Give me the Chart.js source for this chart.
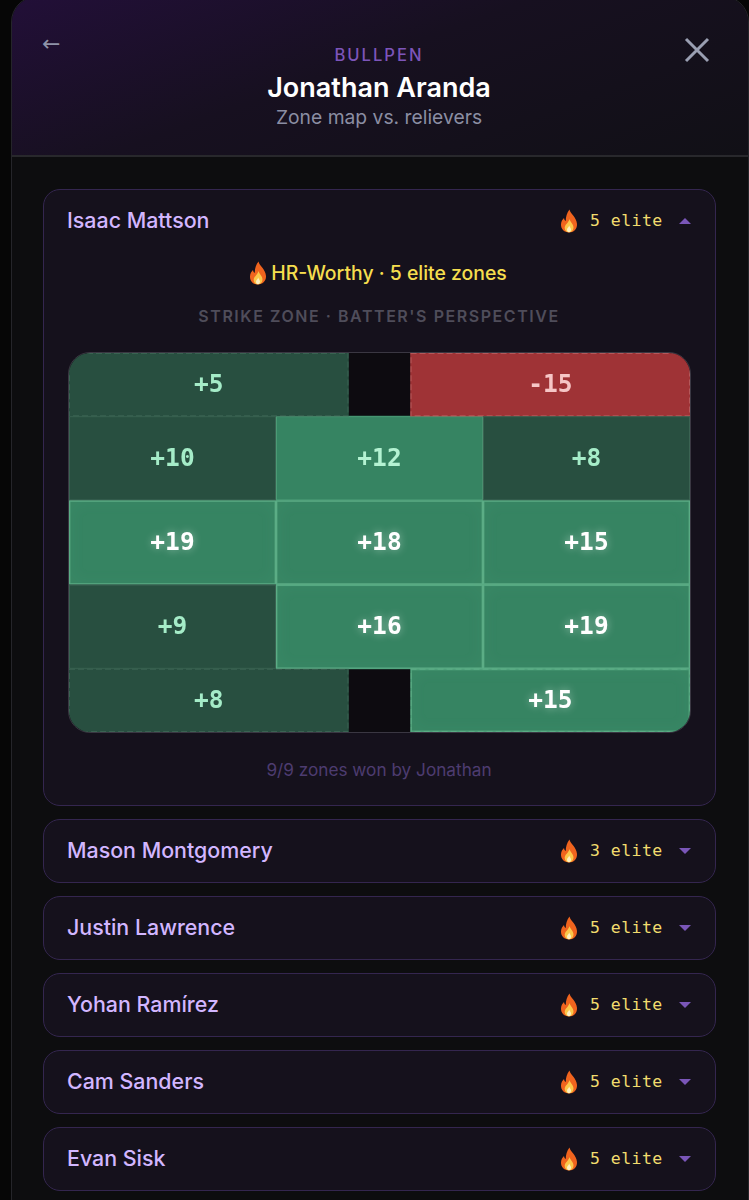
<!DOCTYPE html>
<html>
<head>
<meta charset="utf-8">
<script src="https://cdn.jsdelivr.net/npm/chart.js@4"></script>
<style>
  html, body { margin: 0; padding: 0; height: 1200px; overflow: hidden; background: #060606; }
  body { position: relative; width: 749px; font-family: Inter, "Noto Sans", sans-serif; }
  .abs { position: absolute; white-space: nowrap; line-height: 1; }
  .center { left: 0; width: 758px; text-align: center; }
  #panel { position: absolute; left: 11px; top: -4px; width: 738px; height: 1260px; background: #0d0d0f; border: 1px solid #25252a; border-radius: 26px; box-sizing: border-box; }
  #head { position: absolute; left: 12px; top: -3px; width: 736px; height: 160px; border-radius: 25px 25px 0 0; border-bottom: 2px solid #28282c; box-sizing: border-box; background: linear-gradient(160deg, #220f38 0%, #171020 45%, #111016 100%); }
  .card { position: absolute; left: 43px; width: 673px; background: #15111c; border: 1.5px solid #34264f; border-radius: 17px; box-sizing: border-box; }
  .name { left: 67px; font-size: 21.4px; font-weight: 500; color: #d2b6ff; }
  .elite { left: 590px; font-family: "DejaVu Sans Mono", monospace; font-size: 16.5px; color: #f1dc6e; letter-spacing: 0.45px; }
  .caret { left: 679px; width: 0; height: 0; border-left: 6px solid transparent; border-right: 6px solid transparent; }
  .flame { position: absolute; width: 20px; height: 24px; }
  #zone { position: absolute; left: 68px; top: 352px; width: 623px; height: 381px; border: 1px solid #3a3742; border-radius: 22px; box-sizing: border-box; background: #0d0b10; overflow: hidden; }
  #zone canvas { display: block; }
</style>
</head>
<body>
<div id="panel"></div>
<div id="head"></div>
<div class="abs" style="left:42px;top:33px;font-size:22px;color:#8f93a8;font-family:'DejaVu Sans'">←</div>
<svg class="abs" style="left:684px;top:37px" width="26" height="26"><path d="M2 2 L24 24 M24 2 L2 24" stroke="#9a9fb2" stroke-width="3" fill="none"/></svg>
<div class="abs center" style="top:47px;font-size:16.6px;letter-spacing:2px;font-weight:500;color:#7d55ba">BULLPEN</div>
<div class="abs center" style="top:74px;font-size:27px;font-weight:600;color:#fff">Jonathan Aranda</div>
<div class="abs center" style="top:108px;font-size:19.3px;color:#8b8ea3">Zone map vs. relievers</div>
<div id="cards"></div>
<div class="abs center" style="top:264px;font-size:19.4px;font-weight:500;color:#f5de4e;padding-left:20px;box-sizing:border-box"><span id="worthy">HR-Worthy · 5 elite zones</span></div>
<div class="abs center" style="top:308px;font-size:16px;font-weight:600;letter-spacing:1.55px;color:#4f4d5a">STRIKE ZONE · BATTER'S PERSPECTIVE</div>
<div id="zone"><canvas id="zone-chart" width="621" height="379"></canvas></div>
<div class="abs center" style="top:761px;font-size:17.2px;color:#4d3c70">9/9 zones won by Jonathan</div>
<script>
'use strict';

var relievers = ['Isaac Mattson', 'Mason Montgomery', 'Justin Lawrence', 'Yohan Ramírez', 'Cam Sanders', 'Evan Sisk'];
var eliteCounts = [5, 3, 5, 5, 5, 5];

var shadowAbove = [5, -15];
var zoneHigh = [10, 12, 8];
var zoneMiddle = [19, 18, 15];
var zoneLow = [9, 16, 19];
var shadowBelow = [8, 15];

// grid units: three 2-wide columns, rows 3 and 4 tall
var innerEdges = [0, 2, 4, 6];
var shadowEdges = [[0, 2.7], [3.3, 6]];
var rowCentres = { above: 1.5, high: 5, middle: 9, low: 13, below: 16.5 };

var ROW_UNIT = 379 / 18;

var FLAME = '<svg viewBox="0 0 20 24" class="flame" style="left:LEFTpx;top:TOPpx">' +
  '<path d="M10.5 0.5 C11.5 5 17.5 8 18 15 C18.3 20 14.5 23.5 10 23.5 C5.5 23.5 1.8 20.3 2 15.3 C2.1 12.5 3.6 10.3 5 9 C5.2 10.5 5.8 11.5 6.8 12 C6.6 8 8 3.5 10.5 0.5 Z" fill="#f0641e"/>' +
  '<path d="M10.5 10 C11 13 14.5 15 14.5 18.5 C14.5 21.5 12.5 23.3 10 23.3 C7.5 23.3 5.6 21.5 5.7 18.8 C5.8 15.5 9.5 14 10.5 10 Z" fill="#fbc74a"/>' +
  '<path d="M10.2 16.5 C10.5 18 12 18.8 12 20.6 C12 22.2 11 23.2 10 23.2 C8.9 23.2 8 22.2 8 20.8 C8 19 9.8 18.3 10.2 16.5 Z" fill="#fdf0c2"/></svg>';

function flame(left, top) {
  return FLAME.replace('LEFT', left).replace('TOP', top);
}

function renderCards() {
  var tops = [189, 819, 896, 973, 1050, 1127];
  var html = '';
  relievers.forEach(function(name, i) {
    var h = i === 0 ? 617 : 64;
    var mid = i === 0 ? 221 : tops[i] + 32;
    var caret = i === 0 ? 'border-bottom:6px solid #7a56b8' : 'border-top:6px solid #7a56b8';
    html += '<div class="card" style="top:' + tops[i] + 'px;height:' + h + 'px"></div>';
    html += '<div class="abs name" style="top:' + (mid - 11) + 'px">' + name + '</div>';
    html += flame(559, mid - 12);
    html += '<div class="abs elite" style="top:' + (mid - 8) + 'px">' + eliteCounts[i] + ' elite</div>';
    html += '<div class="abs caret" style="top:' + (mid - 3) + 'px;' + caret + '"></div>';
  });
  html += flame(248, 261);
  document.getElementById('cards').innerHTML = html;
}

function cellFill(v) {
  if (v < 0) return '#9f3336';
  return v >= 12 ? '#368462' : '#284f40';
}

function cellText(v) {
  if (v < 0) return '#f6c6c6';
  if (v >= 15) return '#ffffff';
  return v === 12 ? '#b4f2d2' : '#a5ecc8';
}

function zoneCells(row, values) {
  return values.map(function(v, i) {
    return { x: [innerEdges[i], innerEdges[i + 1]], y: rowCentres[row], v: v };
  });
}

function shadowCells(row, values) {
  return values.map(function(v, i) {
    return { x: shadowEdges[i], y: rowCentres[row], v: v };
  });
}

// borders, inner glow and the value labels sit on the bar elements
var cellDecor = {
  id: 'cellDecor',
  afterDatasetsDraw: function(chart) {
    var ctx = chart.ctx;
    chart.data.datasets.forEach(function(ds, di) {
      chart.getDatasetMeta(di).data.forEach(function(bar, i) {
        var cell = ds.data[i];
        var p = bar.getProps(['x', 'y', 'base', 'height'], true);
        var left = Math.min(p.base, p.x), right = Math.max(p.base, p.x);
        var top = p.y - p.height / 2;
        var w = right - left, h = p.height;

        ctx.save();
        ctx.beginPath();
        ctx.rect(left, top, w, h);
        ctx.clip();
        if (cell.v >= 15) {
          ctx.shadowColor = 'rgba(125,215,170,0.45)';
          ctx.shadowBlur = 14;
          ctx.strokeStyle = 'rgba(125,215,170,0.35)';
          ctx.lineWidth = 3;
          ctx.strokeRect(left, top, w, h);
          ctx.shadowBlur = 0;
        }
        ctx.strokeStyle = cell.v >= 12 ? 'rgba(110,190,150,0.4)' : (cell.v < 0 ? '#b5585a' : '#3a6352');
        ctx.lineWidth = 2;
        if (ds.dashed) ctx.setLineDash([6, 3]);
        ctx.strokeRect(left, top, w, h);
        ctx.restore();

        ctx.save();
        ctx.font = 'bold 24.5px "DejaVu Sans Mono", monospace';
        ctx.textAlign = 'center';
        ctx.textBaseline = 'middle';
        ctx.fillStyle = cellText(cell.v);
        if (cell.v >= 15) {
          ctx.shadowColor = 'rgba(255,255,255,0.45)';
          ctx.shadowBlur = 8;
        }
        var label = (cell.v > 0 ? '+' : '-') + Math.abs(cell.v);
        ctx.fillText(label, (left + right) / 2, p.y + 1);
        ctx.restore();
      });
    });
  },
};

function renderZoneChart() {
  var shadow = shadowCells('above', shadowAbove).concat(shadowCells('below', shadowBelow));
  var zone = zoneCells('high', zoneHigh).concat(zoneCells('middle', zoneMiddle), zoneCells('low', zoneLow));

  new Chart(document.getElementById('zone-chart'), {
    type: 'bar',
    data: {
      datasets: [{
        label: 'Shadow',
        data: shadow,
        dashed: true,
        barThickness: ROW_UNIT * 3,
        backgroundColor: function(c) { return cellFill(c.raw.v); },
        borderWidth: 0,
        borderSkipped: false,
        grouped: false,
      }, {
        label: 'Zone',
        data: zone,
        barThickness: ROW_UNIT * 4,
        backgroundColor: function(c) { return cellFill(c.raw.v); },
        borderWidth: 0,
        borderSkipped: false,
        grouped: false,
      }],
    },
    options: {
      indexAxis: 'y',
      responsive: false,
      animation: false,
      layout: { padding: 0 },
      plugins: { legend: { display: false }, tooltip: { enabled: false } },
      scales: {
        x: { type: 'linear', min: 0, max: 6, display: false },
        y: { type: 'linear', min: 0, max: 18, reverse: true, offset: false, display: false },
      },
    },
    plugins: [cellDecor],
  });
}

renderCards();
renderZoneChart();
</script>
</body>
</html>
